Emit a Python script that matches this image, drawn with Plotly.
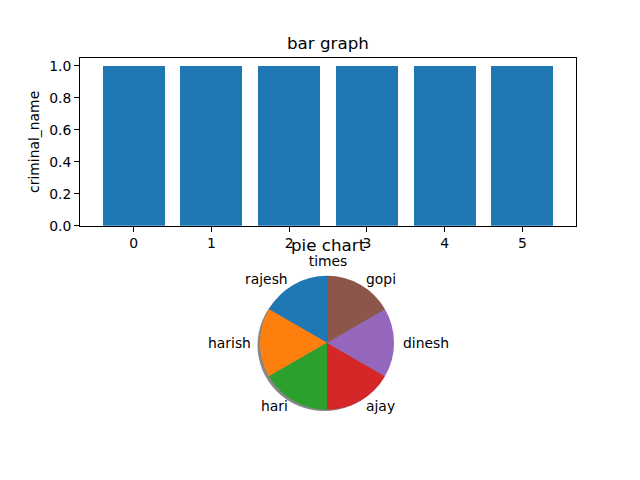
import math
import plotly.graph_objects as go

# data
bar_x = [0, 1, 2, 3, 4, 5]
bar_heights = [1, 1, 1, 1, 1, 1]
criminal_names = ["rajesh", "harish", "hari", "ajay", "dinesh", "gopi"]
pie_values = [1, 1, 1, 1, 1, 1]
pie_colors = ["#1f77b4", "#ff7f0e", "#2ca02c", "#d62728", "#9467bd", "#8c564b"]
y_ticks = [0.0, 0.2, 0.4, 0.6, 0.8, 1.0]

W, H = 640, 480
FONT = "DejaVu Sans"
S = 1.016  # vertical compensation


def py(t):
    """paper y fraction for a target pixel row t"""
    return 1 - (t * S) / H


fig = go.Figure()
fig.add_trace(go.Bar(x=bar_x, y=bar_heights, width=0.8, marker=dict(color="#1f77b4", line=dict(width=0)),
                     xaxis="x", yaxis="y", showlegend=False))

# pie geometry (pixels)
cx, cy, r = 327, 343, 67
fig.add_trace(go.Pie(labels=criminal_names, values=pie_values, sort=False, direction="counterclockwise",
                     rotation=300, textinfo="none", marker=dict(colors=pie_colors, line=dict(width=0)),
                     domain=dict(x=[(cx - r) / W, (cx + r) / W], y=[py(cy + r + 1), py(cy - r - 1)]),
                     showlegend=False, hoverinfo="label+value"))

# labels placed like matplotlib (radius 1.1, start angle 90, counterclockwise)
annotations = []
total = sum(pie_values)
acc = 0
for name, v in zip(criminal_names, pie_values):
    mid = 90 + 360 * (acc + v / 2) / total
    acc += v
    ang = math.radians(mid)
    lx = cx + 1.1 * r * math.cos(ang)
    ly = cy - 1.1 * r * math.sin(ang)
    xa = "left" if math.cos(ang) > 1e-9 else ("right" if math.cos(ang) < -1e-9 else "center")
    annotations.append(dict(x=lx / W, y=py(ly), xref="paper", yref="paper", text=name, showarrow=False,
                            xanchor=xa, yanchor="middle", font=dict(family=FONT, size=13.9, color="black")))

annotations.append(dict(x=328 / W, y=py(43), xref="paper", yref="paper", text="bar graph", showarrow=False,
                        xanchor="center", yanchor="middle", font=dict(family=FONT, size=16.7, color="black")))
annotations.append(dict(x=328 / W, y=py(245), xref="paper", yref="paper", text="pie chart", showarrow=False,
                        xanchor="center", yanchor="middle", font=dict(family=FONT, size=16.7, color="black")))

shapes = [dict(type="circle", xref="paper", yref="paper", layer="below",
               x0=(cx - r - 2.5) / W, x1=(cx + r - 2.5) / W,
               y0=1 - ((cy + 2.5) * S + r) / H, y1=1 - ((cy + 2.5) * S - r) / H,
               fillcolor="rgba(105,105,105,0.8)", line=dict(width=0))]

axis_common = dict(showline=True, linecolor="black", linewidth=1, mirror=True, ticks="outside", ticklen=5,
                   tickcolor="black", showgrid=False, zeroline=False,
                   tickfont=dict(family=FONT, size=13.9, color="black"))

fig.update_layout(
    width=W, height=H, margin=dict(l=0, r=0, t=0, b=0),
    paper_bgcolor="white", plot_bgcolor="white",
    xaxis=dict(domain=[80 / W, 576 / W], anchor="y", range=[-0.69, 5.69], tickvals=bar_x,
               title=dict(text="times", font=dict(family=FONT, size=13.9, color="black"), standoff=5),
               **axis_common),
    yaxis=dict(domain=[py(226), py(58)], anchor="x", range=[0, 1.05], tickvals=y_ticks,
               tickformat=".1f",
               title=dict(text="criminal_name", font=dict(family=FONT, size=13.9, color="black"), standoff=6),
               **axis_common),
    annotations=annotations, shapes=shapes, bargap=0,
)

css_fix = (
    "var de=document.documentElement, b=document.body;"
    "de.style.margin='0';de.style.padding='0';"
    "b.style.margin='0';b.style.padding='0';b.style.overflow='hidden';"
)
fig.write_html("out.html", config={"displayModeBar": False}, post_script=css_fix)
